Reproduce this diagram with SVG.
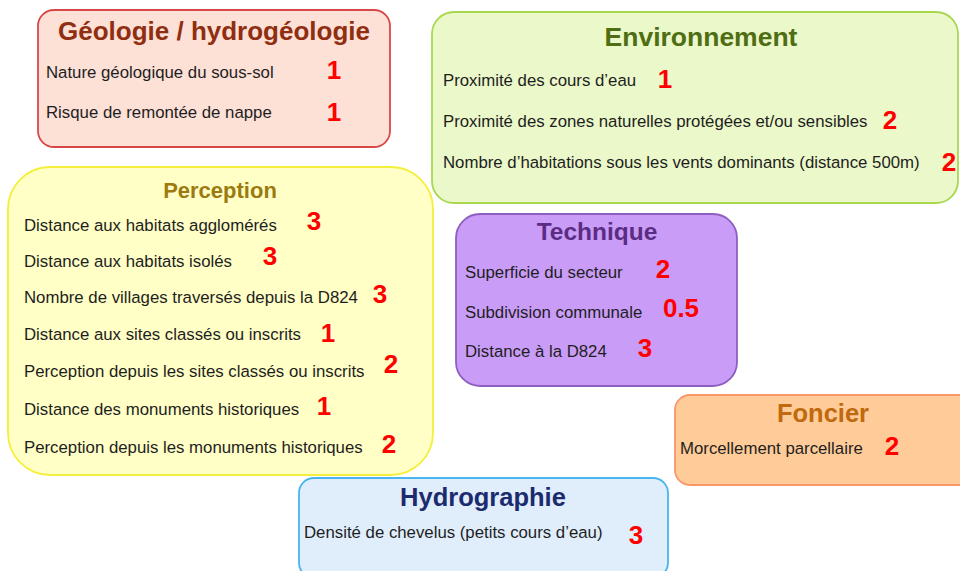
<svg xmlns="http://www.w3.org/2000/svg" width="960" height="571" viewBox="0 0 960 571">
<style>
.box{stroke-width:1.8}
.t{font-family:"Liberation Sans",Arial,sans-serif;font-weight:bold;text-anchor:middle}
.i{font-family:"Liberation Sans",Arial,sans-serif;font-size:16.8px;fill:#1e1e1e}
.n{font-family:"Liberation Sans",Arial,sans-serif;font-size:26px;font-weight:bold;fill:#ff0000;text-anchor:middle}
</style>
<rect width="960" height="571" fill="#ffffff"/>
<g id="geologie">
<rect class="box" x="38" y="10" width="352" height="137" rx="16" fill="#fde0d6" stroke="#d84848"/>
<text class="t" x="214" y="40" font-size="26" fill="#8f2e10">Géologie / hydrogéologie</text>
<text class="i" x="46" y="78">Nature géologique du sous-sol</text>
<text class="n" x="334" y="79">1</text>
<text class="i" x="46" y="118">Risque de remontée de nappe</text>
<text class="n" x="334" y="121">1</text>
</g>
<g id="environnement">
<rect class="box" x="432" y="12" width="526" height="191" rx="22" fill="#ebf8c9" stroke="#a8d84e"/>
<text class="t" x="701" y="46" font-size="26.5" fill="#4f6e14">Environnement</text>
<text class="i" x="443" y="86">Proximité des cours d’eau</text>
<text class="n" x="665" y="88">1</text>
<text class="i" x="443" y="127">Proximité des zones naturelles protégées et/ou sensibles</text>
<text class="n" x="890" y="129">2</text>
<text class="i" x="443" y="168">Nombre d’habitations sous les vents dominants (distance 500m)</text>
<text class="n" x="949" y="171">2</text>
</g>
<g id="perception">
<rect class="box" x="8" y="167" width="425" height="308" rx="42" fill="#ffffc6" stroke="#f4ee3c"/>
<text class="t" x="220" y="198" font-size="22" fill="#9c7a10">Perception</text>
<text class="i" x="24" y="231">Distance aux habitats agglomérés</text>
<text class="n" x="314" y="230">3</text>
<text class="i" x="24" y="267">Distance aux habitats isolés</text>
<text class="n" x="270" y="265">3</text>
<text class="i" x="24" y="303">Nombre de villages traversés depuis la D824</text>
<text class="n" x="380" y="303">3</text>
<text class="i" x="24" y="340">Distance aux sites classés ou inscrits</text>
<text class="n" x="328" y="342">1</text>
<text class="i" x="24" y="377">Perception depuis les sites classés ou inscrits</text>
<text class="n" x="391" y="373">2</text>
<text class="i" x="24" y="415">Distance des monuments historiques</text>
<text class="n" x="324" y="415">1</text>
<text class="i" x="24" y="453">Perception depuis les monuments historiques</text>
<text class="n" x="389" y="453">2</text>
</g>
<g id="technique">
<rect class="box" x="456" y="214" width="281" height="172" rx="24" fill="#c99cf7" stroke="#8e5fc0"/>
<text class="t" x="597" y="240" font-size="24.5" fill="#5a2d82">Technique</text>
<text class="i" x="465" y="278">Superficie du secteur</text>
<text class="n" x="663" y="278">2</text>
<text class="i" x="465" y="318">Subdivision communale</text>
<text class="n" x="681" y="317">0.5</text>
<text class="i" x="465" y="357">Distance à la D824</text>
<text class="n" x="645" y="357">3</text>
</g>
<g id="foncier">
<rect class="box" x="675" y="395" width="300" height="90" rx="15" fill="#ffcc99" stroke="#f7976a"/>
<text class="t" x="823" y="422" font-size="25.5" fill="#c0690e">Foncier</text>
<text class="i" x="680" y="454">Morcellement parcellaire</text>
<text class="n" x="892" y="455">2</text>
</g>
<g id="hydrographie">
<rect class="box" x="299" y="478" width="369" height="100" rx="15" fill="#e0eefc" stroke="#4ab4ee"/>
<text class="t" x="483" y="506" font-size="25.5" fill="#1c2a6e">Hydrographie</text>
<text class="i" x="304" y="538">Densité de chevelus (petits cours d’eau)</text>
<text class="n" x="636" y="544">3</text>
</g>
<g id="connectors"/>
</svg>
